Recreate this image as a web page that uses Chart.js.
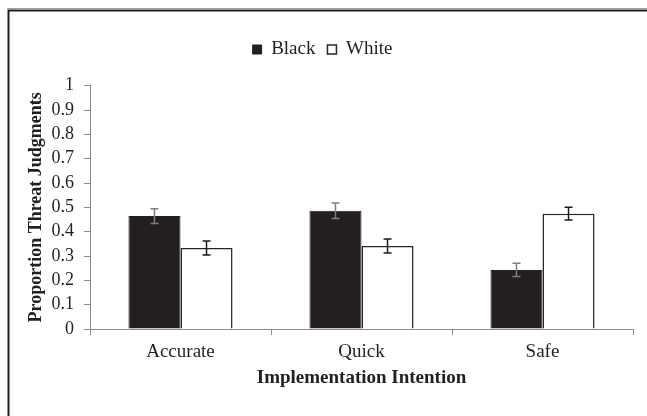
<!DOCTYPE html>
<html>
<head>
<meta charset="utf-8">
<script src="https://cdn.jsdelivr.net/npm/chart.js@4/dist/chart.umd.min.js"></script>
<style>
  html, body { margin: 0; padding: 0; background: #ffffff; }
  #wrap { position: relative; width: 647px; height: 416px; }
</style>
</head>
<body>
<div id="wrap"><canvas id="chart" width="647" height="416"></canvas></div>
<script>
// Proportion of threat judgments by implementation intention and target race
const categories = ['Accurate', 'Quick', 'Safe'];
const seriesNames = ['Black', 'White'];
const blackMeans = [0.464, 0.486, 0.243];
const whiteMeans = [0.333, 0.341, 0.474];
const blackErrors = [0.030, 0.032, 0.027];
const whiteErrors = [0.029, 0.029, 0.026];
const yTickLabels = ['0', '0.1', '0.2', '0.3', '0.4', '0.5', '0.6', '0.7', '0.8', '0.9', '1'];

const INK = '#231f20';
const AXIS = '#8c8c8c';
const SERIF = '"Liberation Serif", "Times New Roman", Times, serif';

// White page with the open frame along the top and left edges
const framePlugin = {
  id: 'frame',
  beforeDraw(chart) {
    const ctx = chart.ctx;
    ctx.save();
    ctx.fillStyle = '#ffffff';
    ctx.fillRect(0, 0, chart.width, chart.height);
    ctx.strokeStyle = '#a0a0a0';
    ctx.lineWidth = 1;
    ctx.beginPath();
    ctx.moveTo(7, 8.5);
    ctx.lineTo(chart.width, 8.5);
    ctx.stroke();
    ctx.strokeStyle = '#1e1e1e';
    ctx.lineWidth = 2;
    ctx.beginPath();
    ctx.moveTo(chart.width, 10.5);
    ctx.lineTo(8.5, 10.5);
    ctx.lineTo(8.5, chart.height);
    ctx.stroke();
    ctx.restore();
  }
};

// Extra room under the legend row
const legendSpacer = {
  id: 'legendSpacer',
  beforeLayout(chart) {
    const legend = chart.legend;
    if (!legend || legend._spaced) return;
    const fit = legend.fit;
    legend.fit = function () {
      fit.call(this);
      this.height = 57.7;
    };
    legend._spaced = true;
  }
};

// Standard-error whiskers drawn on top of each bar
const errorBars = {
  id: 'errorBars',
  afterDatasetsDraw(chart) {
    const ctx = chart.ctx;
    const y = chart.scales.y;
    const sets = [
      { means: blackMeans, errs: blackErrors, color: '#7f7f7f' },
      { means: whiteMeans, errs: whiteErrors, color: '#1a1a1a' }
    ];
    ctx.save();
    ctx.lineWidth = 1.5;
    sets.forEach((s, di) => {
      const meta = chart.getDatasetMeta(di);
      meta.data.forEach((bar, i) => {
        const x = bar.x;
        const yHi = y.getPixelForValue(s.means[i] + s.errs[i]);
        const yLo = y.getPixelForValue(s.means[i] - s.errs[i]);
        const cap = 4;
        ctx.strokeStyle = s.color;
        ctx.beginPath();
        ctx.moveTo(x, yHi); ctx.lineTo(x, yLo);
        ctx.moveTo(x - cap, yHi); ctx.lineTo(x + cap, yHi);
        ctx.moveTo(x - cap, yLo); ctx.lineTo(x + cap, yLo);
        ctx.stroke();
      });
    });
    ctx.restore();
  }
};

new Chart(document.getElementById('chart'), {
  type: 'bar',
  data: {
    labels: categories,
    datasets: [
      {
        label: seriesNames[0],
        data: blackMeans,
        backgroundColor: INK,
        borderColor: INK,
        borderWidth: 1
      },
      {
        label: seriesNames[1],
        data: whiteMeans,
        backgroundColor: '#ffffff',
        borderColor: '#262626',
        borderWidth: 1.5
      }
    ]
  },
  options: {
    responsive: false,
    animation: false,
    events: [],
    layout: { padding: { top: 28, left: 12, right: 14, bottom: 0 } },
    datasets: {
      bar: { categoryPercentage: 0.575, barPercentage: 1.0 }
    },
    plugins: {
      tooltip: { enabled: false },
      legend: {
        position: 'top',
        align: 'center',
        labels: {
          color: INK,
          font: { family: SERIF, size: 19 },
          boxWidth: 9,
          boxHeight: 9,
          padding: 12
        }
      }
    },
    scales: {
      x: {
        offset: true,
        grid: {
          offset: true,
          drawOnChartArea: false,
          drawTicks: true,
          tickLength: 6,
          color: AXIS
        },
        border: { color: AXIS, width: 1 },
        ticks: {
          color: INK,
          font: { family: SERIF, size: 19 },
          padding: 6,
          maxRotation: 0
        },
        title: {
          display: true,
          text: 'Implementation Intention',
          color: INK,
          font: { family: SERIF, size: 19, weight: 'bold' },
          padding: { top: 0, bottom: 27 }
        },
        afterFit(scale) { scale.height = 87; }
      },
      y: {
        min: 0,
        max: 1,
        grid: {
          drawOnChartArea: false,
          drawTicks: true,
          tickLength: 6,
          color: AXIS
        },
        border: { color: AXIS, width: 1 },
        ticks: {
          stepSize: 0.1,
          autoSkip: false,
          color: INK,
          font: { family: SERIF, size: 18 },
          padding: 10,
          callback: (value, index) => yTickLabels[index]
        },
        title: {
          display: true,
          text: 'Proportion Threat Judgments',
          color: INK,
          font: { family: SERIF, size: 18, weight: 'bold' },
          padding: { top: 14, bottom: 0 }
        },
        afterFit(scale) { scale.width = 78; }
      }
    }
  },
  plugins: [framePlugin, legendSpacer, errorBars]
});
</script>
</body>
</html>
